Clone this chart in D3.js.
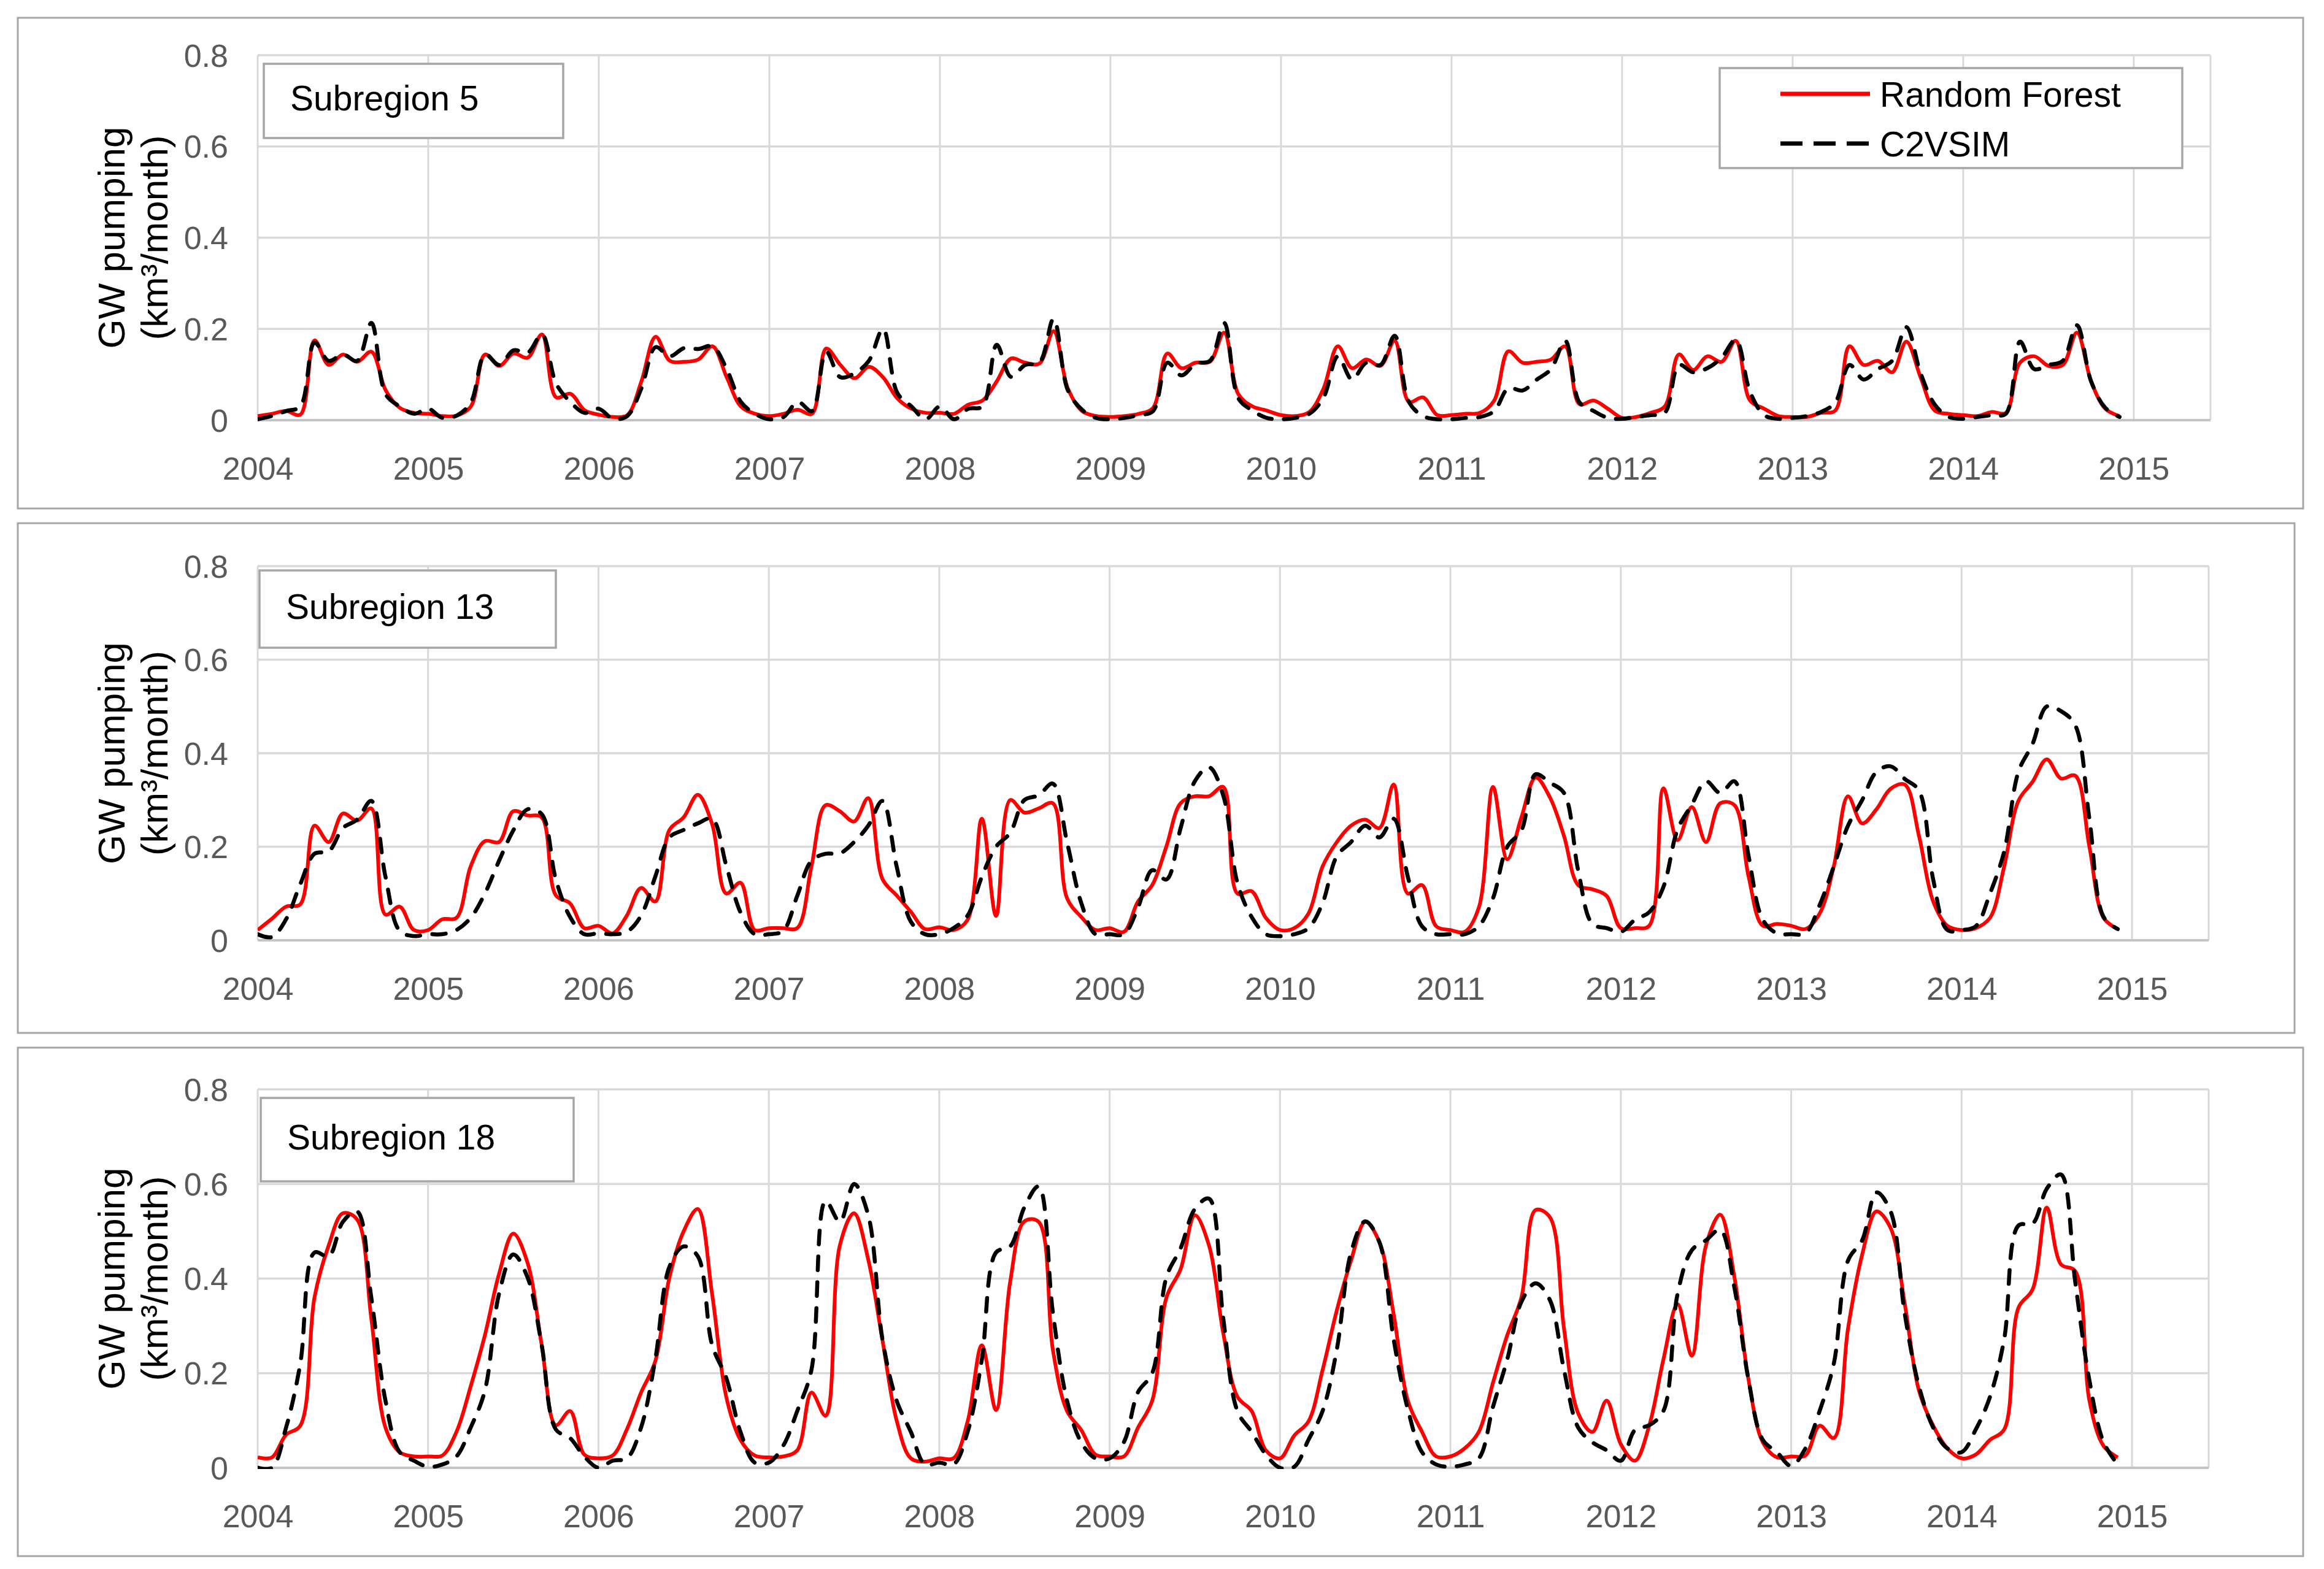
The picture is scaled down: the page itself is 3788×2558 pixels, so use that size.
<!DOCTYPE html>
<html>
<head>
<meta charset="utf-8">
<script src="https://cdn.jsdelivr.net/npm/d3@7"></script>
<style>
  html, body { margin: 0; padding: 0; background: #fff; }
  svg { display: block; }
</style>
</head>
<body>
<div id="chart"></div>
<script>
/* Monthly GW pumping, Random Forest vs C2VSIM, three subregions, Jan 2004 - Dec 2014 */
const years = [2004, 2005, 2006, 2007, 2008, 2009, 2010, 2011, 2012, 2013, 2014, 2015];
const yTicks = [0, 0.2, 0.4, 0.6, 0.8];
const seriesNames = ['Random Forest', 'C2VSIM'];
const panelTitles = ['Subregion 5', 'Subregion 13', 'Subregion 18'];

const sr5RF = [
  0.009,0.014,0.02,0.012,0.175,0.121,0.144,0.128,0.15,0.066,0.027,0.016,
  0.014,0.009,0.01,0.03,0.144,0.119,0.146,0.137,0.188,0.05,0.058,0.022,
  0.012,0.007,0.011,0.085,0.183,0.13,0.128,0.133,0.162,0.094,0.03,0.014,
  0.009,0.014,0.023,0.014,0.157,0.121,0.092,0.117,0.094,0.048,0.025,0.016,
  0.016,0.014,0.034,0.043,0.085,0.135,0.126,0.124,0.195,0.07,0.02,0.009,
  0.007,0.009,0.014,0.027,0.146,0.114,0.126,0.128,0.192,0.057,0.03,0.021,
  0.011,0.009,0.018,0.07,0.162,0.114,0.133,0.119,0.174,0.04,0.05,0.011,
  0.011,0.014,0.016,0.043,0.151,0.126,0.128,0.133,0.162,0.035,0.043,0.025,
  0.005,0.007,0.016,0.03,0.144,0.11,0.14,0.128,0.174,0.043,0.025,0.009,
  0.007,0.007,0.016,0.021,0.162,0.121,0.13,0.105,0.172,0.094,0.021,0.014,
  0.011,0.009,0.018,0.016,0.126,0.14,0.119,0.121,0.192,0.085,0.025,0.009
];
const sr5C2 = [
  0.002,0.009,0.02,0.03,0.17,0.13,0.144,0.13,0.213,0.057,0.03,0.014,
  0.025,0.005,0.01,0.039,0.144,0.121,0.153,0.148,0.188,0.08,0.04,0.016,
  0.025,0.003,0.009,0.07,0.16,0.14,0.158,0.156,0.162,0.112,0.04,0.014,
  0.002,0.007,0.04,0.02,0.15,0.094,0.103,0.13,0.2,0.06,0.03,0.002,
  0.03,0.002,0.025,0.03,0.165,0.095,0.121,0.126,0.222,0.066,0.023,0.005,
  0.002,0.005,0.011,0.02,0.126,0.098,0.124,0.13,0.213,0.048,0.021,0.005,
  0.002,0.005,0.014,0.05,0.14,0.089,0.126,0.121,0.185,0.04,0.009,0.002,
  0.002,0.005,0.007,0.02,0.07,0.065,0.089,0.112,0.174,0.039,0.02,0.005,
  0.003,0.007,0.011,0.016,0.121,0.105,0.114,0.137,0.176,0.062,0.011,0.003,
  0.005,0.009,0.018,0.039,0.121,0.089,0.112,0.13,0.204,0.103,0.034,0.007,
  0.003,0.007,0.011,0.014,0.172,0.112,0.121,0.13,0.208,0.085,0.027,0.007
];
const sr13RF = [
  0.022,0.046,0.072,0.077,0.245,0.21,0.271,0.256,0.282,0.055,0.072,0.022,
  0.022,0.045,0.048,0.158,0.212,0.21,0.276,0.267,0.263,0.096,0.079,0.026,
  0.031,0.015,0.053,0.112,0.083,0.236,0.263,0.311,0.249,0.1,0.123,0.022,
  0.026,0.026,0.026,0.158,0.289,0.276,0.254,0.304,0.131,0.096,0.061,0.024,
  0.028,0.022,0.044,0.26,0.052,0.3,0.273,0.282,0.293,0.09,0.05,0.022,
  0.026,0.018,0.083,0.118,0.201,0.293,0.308,0.308,0.328,0.1,0.105,0.048,
  0.022,0.026,0.057,0.158,0.21,0.245,0.258,0.24,0.333,0.1,0.118,0.03,
  0.022,0.018,0.07,0.328,0.173,0.263,0.348,0.306,0.223,0.118,0.109,0.095,
  0.026,0.026,0.031,0.325,0.214,0.285,0.21,0.293,0.289,0.136,0.031,0.035,
  0.031,0.024,0.057,0.158,0.308,0.25,0.28,0.324,0.333,0.223,0.083,0.031,
  0.022,0.026,0.048,0.158,0.298,0.339,0.387,0.346,0.352,0.2,0.048,0.024
];
const sr13C2 = [
  0.013,0.007,0.045,0.12,0.185,0.19,0.24,0.258,0.298,0.136,0.02,0.009,
  0.013,0.013,0.022,0.048,0.1,0.17,0.235,0.28,0.27,0.13,0.05,0.013,
  0.015,0.013,0.018,0.053,0.136,0.22,0.236,0.25,0.26,0.16,0.06,0.013,
  0.013,0.02,0.095,0.17,0.185,0.186,0.21,0.245,0.298,0.158,0.04,0.013,
  0.013,0.026,0.053,0.136,0.2,0.23,0.3,0.31,0.335,0.21,0.08,0.013,
  0.013,0.013,0.07,0.15,0.13,0.24,0.34,0.37,0.31,0.123,0.05,0.013,
  0.009,0.013,0.026,0.08,0.18,0.21,0.245,0.22,0.26,0.136,0.03,0.013,
  0.013,0.013,0.03,0.09,0.2,0.235,0.355,0.337,0.315,0.149,0.035,0.026,
  0.018,0.044,0.06,0.114,0.237,0.29,0.34,0.315,0.34,0.18,0.044,0.015,
  0.013,0.015,0.075,0.158,0.245,0.3,0.36,0.372,0.345,0.32,0.13,0.022,
  0.022,0.03,0.1,0.19,0.36,0.42,0.5,0.49,0.46,0.26,0.05,0.024
];
const sr18RF = [
  0.022,0.022,0.07,0.089,0.36,0.47,0.538,0.525,0.316,0.085,0.033,0.024,
  0.024,0.026,0.076,0.172,0.28,0.41,0.495,0.434,0.26,0.09,0.12,0.028,
  0.02,0.026,0.081,0.159,0.225,0.403,0.5,0.547,0.368,0.15,0.059,0.026,
  0.022,0.024,0.037,0.159,0.11,0.47,0.538,0.44,0.27,0.1,0.02,0.013,
  0.02,0.02,0.098,0.259,0.122,0.394,0.521,0.52,0.25,0.12,0.08,0.028,
  0.024,0.024,0.085,0.142,0.36,0.42,0.534,0.47,0.285,0.15,0.12,0.037,
  0.02,0.068,0.098,0.207,0.333,0.438,0.52,0.477,0.325,0.142,0.076,0.024,
  0.024,0.041,0.076,0.18,0.28,0.36,0.545,0.53,0.294,0.115,0.076,0.142,
  0.05,0.015,0.089,0.229,0.346,0.237,0.47,0.535,0.403,0.185,0.054,0.022,
  0.024,0.026,0.089,0.063,0.294,0.451,0.542,0.507,0.346,0.163,0.089,0.041,
  0.02,0.028,0.059,0.081,0.338,0.377,0.55,0.43,0.416,0.142,0.046,0.022
];
const sr18C2 = [
  0.0,0.0,0.085,0.22,0.455,0.447,0.52,0.542,0.36,0.142,0.033,0.015,
  0.002,0.007,0.024,0.085,0.163,0.368,0.451,0.403,0.26,0.081,0.063,0.024,
  0.0,0.015,0.02,0.085,0.229,0.425,0.468,0.447,0.26,0.19,0.076,0.011,
  0.011,0.046,0.12,0.207,0.564,0.52,0.6,0.534,0.272,0.142,0.076,0.007,
  0.011,0.007,0.076,0.229,0.455,0.468,0.551,0.595,0.329,0.142,0.054,0.02,
  0.02,0.054,0.16,0.2,0.403,0.464,0.547,0.569,0.316,0.12,0.076,0.028,
  0.0,0.002,0.059,0.12,0.25,0.455,0.521,0.477,0.272,0.124,0.033,0.007,
  0.002,0.007,0.02,0.129,0.229,0.351,0.39,0.355,0.207,0.085,0.054,0.037,
  0.015,0.08,0.09,0.12,0.368,0.46,0.481,0.503,0.381,0.185,0.059,0.033,
  0.004,0.041,0.12,0.22,0.438,0.481,0.582,0.542,0.325,0.172,0.085,0.041,
  0.033,0.081,0.15,0.272,0.512,0.516,0.59,0.62,0.394,0.185,0.054,0.007
];

(function(){
  const W = 3788, H = 2558;
  const FONT = '"Liberation Sans", Arial, sans-serif';
  const RED = '#ff0000', GRID = '#d9d9d9', FRAME = '#a6a6a6', TICK = '#595959';
  const X_END = 2015.45;

  // layout of the three stacked panels (pixel boxes)
  const panels = [
    { title: panelTitles[0], rf: sr5RF,  c2: sr5C2,  legend: true,
      box: [29, 29, 3725, 800],  plot: [420, 90, 3603, 685],   tag: [430, 104, 488, 121] },
    { title: panelTitles[1], rf: sr13RF, c2: sr13C2, legend: false,
      box: [29, 853, 3711, 831], plot: [420, 923, 3600, 1533], tag: [423, 930, 483, 126] },
    { title: panelTitles[2], rf: sr18RF, c2: sr18C2, legend: false,
      box: [29, 1708, 3725, 829], plot: [420, 1776, 3600, 2393], tag: [425, 1790, 510, 136] }
  ];

  const svg = d3.select('#chart').append('svg').attr('width', W).attr('height', H);
  svg.append('rect').attr('width', W).attr('height', H).attr('fill', '#fff');

  function monthPos(i){ return years[0] + i / 12; }

  function drawPanel(p, k){
    const [l, t, r, b] = p.plot;
    const x = d3.scaleLinear().domain([years[0], X_END]).range([l, r]);
    const y = d3.scaleLinear().domain([0, 0.8]).range([b, t]);
    const g = svg.append('g');

    g.append('rect')
      .attr('x', p.box[0]).attr('y', p.box[1]).attr('width', p.box[2]).attr('height', p.box[3])
      .attr('fill', '#fff').attr('stroke', FRAME).attr('stroke-width', 3);

    // grid
    g.append('g').selectAll('line').data(years).join('line')
      .attr('x1', d => x(d)).attr('x2', d => x(d)).attr('y1', t).attr('y2', b)
      .attr('stroke', GRID).attr('stroke-width', 3);
    g.append('g').selectAll('line').data(yTicks.slice(1)).join('line')
      .attr('x1', l).attr('x2', r).attr('y1', d => y(d)).attr('y2', d => y(d))
      .attr('stroke', GRID).attr('stroke-width', 3.5);
    g.append('line').attr('x1', r).attr('x2', r).attr('y1', t).attr('y2', b)
      .attr('stroke', GRID).attr('stroke-width', 3);
    g.append('line').attr('x1', l).attr('x2', r).attr('y1', y(0)).attr('y2', y(0))
      .attr('stroke', '#c4c4c4').attr('stroke-width', 4);

    // axes (labels only)
    const xAxis = g.append('g').attr('transform', 'translate(0,' + (b + 57) + ')')
      .call(d3.axisBottom(x).tickValues(years).tickFormat(d3.format('d')).tickSize(0));
    const yAxis = g.append('g').attr('transform', 'translate(' + (l - 48) + ',0)')
      .call(d3.axisLeft(y).tickValues(yTicks).tickSize(0)
        .tickFormat(d => d === 0 ? '0' : d3.format('.1f')(d)));
    [xAxis, yAxis].forEach(a => {
      a.select('.domain').remove();
      a.selectAll('text').style('font-family', FONT).style('font-size', '52px').attr('fill', TICK);
    });
    yAxis.selectAll('text').attr('x', 0).attr('dy', '0.35em');

    // y title, two lines rotated
    const cy = (t + b) / 2;
    [['GW pumping', 203], ['(km\u00B3/month)', 273]].forEach(([txt, bx]) => {
      g.append('text').attr('transform', 'translate(' + bx + ',' + cy + ') rotate(-90)')
        .attr('text-anchor', 'middle')
        .style('font-family', FONT).style('font-size', '62px').attr('fill', '#000')
        .text(txt);
    });

    // series
    const clipId = 'clip' + k;
    svg.append('clipPath').attr('id', clipId).append('rect')
      .attr('x', l).attr('y', t - 10).attr('width', r - l).attr('height', b - t + 12);
    const line = d3.line().x((d, i) => x(monthPos(i))).y(d => y(d))
      .curve(d3.curveCatmullRom.alpha(0.5));
    const lines = g.append('g').attr('clip-path', 'url(#' + clipId + ')');
    lines.append('path').datum(p.rf).attr('d', line)
      .attr('fill', 'none').attr('stroke', RED).attr('stroke-width', 6).attr('stroke-linejoin', 'round');
    lines.append('path').datum(p.c2).attr('d', line)
      .attr('fill', 'none').attr('stroke', '#000').attr('stroke-width', 6.5)
      .attr('stroke-dasharray', '22,20').attr('stroke-linecap', 'round');

    // subregion tag
    const [tx, ty, tw, th] = p.tag;
    g.append('rect').attr('x', tx).attr('y', ty).attr('width', tw).attr('height', th)
      .attr('fill', '#fff').attr('stroke', FRAME).attr('stroke-width', 3.5);
    g.append('text').attr('x', tx + 43).attr('y', ty + th / 2 - 5).attr('dy', '0.36em')
      .style('font-family', FONT).style('font-size', '57px').attr('fill', '#000')
      .text(p.title);

    if(p.legend){
      const lx = 2803, ly = 111, lw = 754, lh = 163;
      g.append('rect').attr('x', lx).attr('y', ly).attr('width', lw).attr('height', lh)
        .attr('fill', '#fff').attr('stroke', FRAME).attr('stroke-width', 3.5);
      const rows = [
        { name: seriesNames[0], color: RED, dash: null, yy: 153 },
        { name: seriesNames[1], color: '#000', dash: '36,18', yy: 234 }
      ];
      rows.forEach(rw => {
        const ln = g.append('line').attr('x1', 2902).attr('x2', 3048).attr('y1', rw.yy).attr('y2', rw.yy)
          .attr('stroke', rw.color).attr('stroke-width', 7);
        if(rw.dash) ln.attr('stroke-dasharray', rw.dash);
        g.append('text').attr('x', 3064).attr('y', rw.yy).attr('dy', '0.36em')
          .style('font-family', FONT).style('font-size', '57px').attr('fill', '#000')
          .text(rw.name);
      });
    }
  }

  panels.forEach(drawPanel);
})();
</script>
</body>
</html>
